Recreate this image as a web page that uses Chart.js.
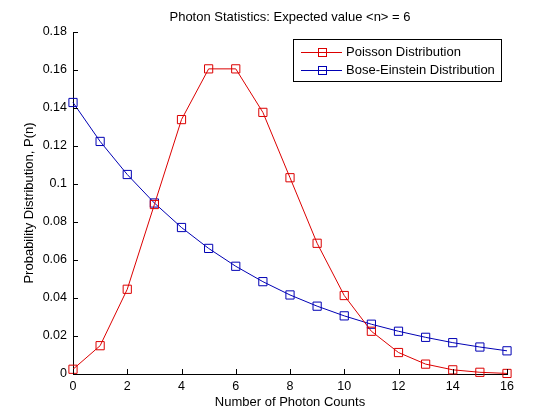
<!DOCTYPE html>
<html>
<head>
<meta charset="utf-8">
<script src="https://cdn.jsdelivr.net/npm/chart.js@4"></script>
<style>
  html, body { margin: 0; padding: 0; background: #fff; }
  #wrap { width: 560px; height: 420px; }
</style>
</head>
<body>
<div id="wrap"><canvas id="chart" width="560" height="420"></canvas></div>
<script>
const photonCounts = [0, 1, 2, 3, 4, 5, 6, 7, 8, 9, 10, 11, 12, 13, 14, 15, 16];
const poissonValues = [0.0025, 0.0149, 0.0446, 0.0892, 0.1339, 0.1606, 0.1606, 0.1377, 0.1033,
    0.0688, 0.0413, 0.0225, 0.0113, 0.0052, 0.0022, 0.0009, 0.0003];
const boseValues = [0.1429, 0.1224, 0.1050, 0.0900, 0.0771, 0.0661, 0.0567, 0.0486, 0.0416,
    0.0357, 0.0306, 0.0262, 0.0225, 0.0193, 0.0165, 0.0142, 0.0122];
const seriesLabels = ['Poisson Distribution', 'Bose-Einstein Distribution'];
const chartTitle = 'Photon Statistics: Expected value <n> = 6';
const xTitle = 'Number of Photon Counts';
const yTitle = 'Probability Distribution, P(n)';

const FONT = '"Liberation Sans", Arial, sans-serif';
const RED = 'rgb(220,0,0)';
const BLUE = 'rgb(0,0,180)';

function toPoints(values) {
    return photonCounts.map((n, i) => ({ x: n, y: values[i] }));
}

// inward tick marks, title and legend box, matlab style
const matlabBits = {
    id: 'matlabBits',
    afterDraw(chart) {
        const ctx = chart.ctx;
        const xs = chart.scales.x;
        const ys = chart.scales.y;
        const area = chart.chartArea;
        ctx.save();
        ctx.strokeStyle = '#000';
        ctx.lineWidth = 1;
        ctx.beginPath();
        xs.ticks.forEach(t => {
            const px = Math.round(xs.getPixelForValue(t.value)) + 0.5;
            ctx.moveTo(px, area.bottom);
            ctx.lineTo(px, area.bottom - 5);
        });
        ys.ticks.forEach(t => {
            const py = Math.round(ys.getPixelForValue(t.value)) + 0.5;
            ctx.moveTo(area.left, py);
            ctx.lineTo(area.left + 5, py);
        });
        ctx.stroke();

        ctx.fillStyle = '#000';
        ctx.font = '13px ' + FONT;
        ctx.textAlign = 'center';
        ctx.textBaseline = 'middle';
        ctx.fillText(chartTitle, (area.left + area.right) / 2, 17);

        // legend
        const box = { left: 293.5, top: 39.5, right: 501.5, bottom: 81.5 };
        ctx.fillStyle = '#fff';
        ctx.fillRect(box.left, box.top, box.right - box.left, box.bottom - box.top);
        ctx.strokeStyle = '#000';
        ctx.strokeRect(box.left, box.top, box.right - box.left, box.bottom - box.top);
        chart.data.datasets.forEach((ds, i) => {
            const y = 52 + i * 18 + 0.5;
            ctx.strokeStyle = ds.borderColor;
            ctx.beginPath();
            ctx.moveTo(301, y);
            ctx.lineTo(342, y);
            ctx.stroke();
            ctx.strokeRect(318.5, y - 4, 8, 8);
            ctx.fillStyle = '#000';
            ctx.textAlign = 'left';
            ctx.fillText(ds.label, 346, y);
        });
        ctx.restore();
    }
};

const ctx = document.querySelector('#chart').getContext('2d');
new Chart(ctx, {
    type: 'line',
    data: {
        datasets: [{
            label: seriesLabels[0],
            data: toPoints(poissonValues),
            borderColor: RED,
            backgroundColor: 'transparent',
            borderWidth: 1,
            pointStyle: 'rect',
            pointRadius: 5.8,
            pointBorderColor: RED,
            pointBackgroundColor: 'transparent',
            pointBorderWidth: 1,
            tension: 0,
            clip: false
        }, {
            label: seriesLabels[1],
            data: toPoints(boseValues),
            borderColor: BLUE,
            backgroundColor: 'transparent',
            borderWidth: 1,
            pointStyle: 'rect',
            pointRadius: 5.8,
            pointBorderColor: BLUE,
            pointBackgroundColor: 'transparent',
            pointBorderWidth: 1,
            tension: 0,
            clip: false
        }]
    },
    options: {
        responsive: false,
        animation: false,
        layout: { padding: { top: 32, right: 53, left: 0, bottom: 0 } },
        plugins: {
            legend: { display: false },
            title: { display: false },
            tooltip: { enabled: false }
        },
        scales: {
            x: {
                type: 'linear',
                min: 0,
                max: 16,
                grid: { display: false, drawTicks: false },
                border: { display: true, color: '#000', width: 1 },
                ticks: { stepSize: 2, color: '#000', padding: 5, maxRotation: 0,
                    font: { family: FONT, size: 12.5 } },
                title: { display: true, text: xTitle, color: '#000',
                    font: { family: FONT, size: 13 }, padding: { top: 0, bottom: 10 } },
                afterFit(scale) { scale.height = 46; }
            },
            y: {
                type: 'linear',
                min: 0,
                max: 0.18,
                grid: { display: false, drawTicks: false },
                border: { display: true, color: '#000', width: 1 },
                ticks: { stepSize: 0.02, color: '#000', padding: 6,
                    font: { family: FONT, size: 12.5 },
                    callback: v => String(+v.toFixed(2)) },
                title: { display: true, text: yTitle, color: '#000',
                    font: { family: FONT, size: 13 }, padding: { top: 22, bottom: 0 } },
                afterFit(scale) { scale.width = 73; }
            }
        }
    },
    plugins: [matlabBits]
});
</script>
</body>
</html>
